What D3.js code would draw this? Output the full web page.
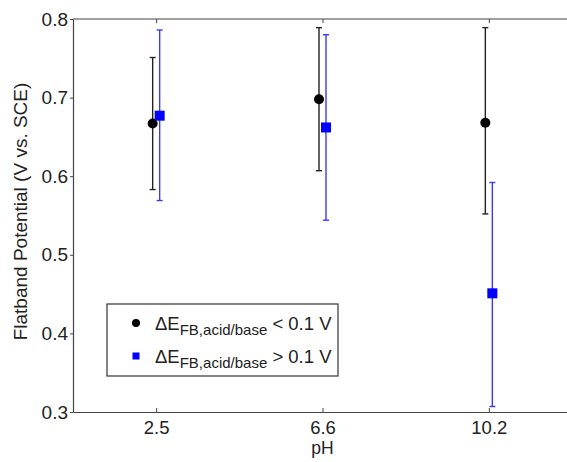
<!DOCTYPE html>
<html>
<head>
<meta charset="utf-8">
<script src="https://cdn.jsdelivr.net/npm/d3@7"></script>
<style>
  body { margin: 0; background: #fff; }
  text { font-family: "Liberation Sans", Arial, sans-serif; fill: #222; }
</style>
</head>
<body>
<div id="chart"></div>
<script>
// pH categories and flatband potentials (V vs. SCE)
const phLabels = ["2.5", "6.6", "10.2"];
const lowMean = [0.667, 0.698, 0.668];
const lowUpper = [0.751, 0.789, 0.789];
const lowLower = [0.583, 0.607, 0.552];
const highMean = [0.677, 0.662, 0.451];
const highUpper = [0.786, 0.780, 0.592];
const highLower = [0.569, 0.544, 0.307];
const yTicks = [0.3, 0.4, 0.5, 0.6, 0.7, 0.8];

const W = 567, H = 462;
const margin = { top: 19, right: -5, bottom: 50, left: 73 };

const svg = d3.select("#chart").append("svg")
    .attr("width", W)
    .attr("height", H);

const x = d3.scaleLinear()
    .domain([0.5, 3.5])
    .range([margin.left, W - margin.right]);

const y = d3.scaleLinear()
    .domain([0.3, 0.8])
    .range([H - margin.bottom, margin.top]);

const axisColor = "#444";

// top frame line
svg.append("line")
    .attr("x1", x(0.5)).attr("x2", x(3.5))
    .attr("y1", y(0.8)).attr("y2", y(0.8))
    .attr("stroke", axisColor).attr("stroke-width", 1.2);

// bottom axis
const xAxis = svg.append("g")
    .attr("transform", `translate(0,${y(0.3)})`)
    .call(d3.axisBottom(x)
        .tickValues([1, 2, 3])
        .tickFormat((d, i) => phLabels[i])
        .tickSizeInner(-4)
        .tickSizeOuter(0)
        .tickPadding(9));
xAxis.select(".domain").attr("stroke", axisColor).attr("stroke-width", 1.2);
xAxis.selectAll(".tick line").attr("stroke", axisColor);
xAxis.selectAll("text").style("font-size", "18.5px").attr("fill", "#222");

// top ticks
svg.append("g")
    .attr("transform", `translate(0,${y(0.8)})`)
    .call(d3.axisTop(x).tickValues([1, 2, 3]).tickSizeInner(-4).tickSizeOuter(0).tickFormat(""))
    .call(g => g.select(".domain").remove())
    .selectAll(".tick line").attr("stroke", axisColor);

// left axis
const yAxis = svg.append("g")
    .attr("transform", `translate(${margin.left},0)`)
    .call(d3.axisLeft(y)
        .tickValues(yTicks)
        .tickFormat(d3.format(".1f"))
        .tickSizeInner(3)
        .tickSizeOuter(0)
        .tickPadding(2));
yAxis.select(".domain").attr("stroke", axisColor).attr("stroke-width", 1.2);
yAxis.selectAll(".tick line").attr("stroke", axisColor);
yAxis.selectAll("text").style("font-size", "19px").attr("fill", "#222");

// right axis ticks (mostly off-canvas)
svg.append("g")
    .attr("transform", `translate(${x(3.5)},0)`)
    .call(d3.axisRight(y).tickValues(yTicks).tickSizeInner(-4).tickSizeOuter(0).tickFormat(""))
    .call(g => g.select(".domain").attr("stroke", axisColor))
    .selectAll(".tick line").attr("stroke", "#bbb");

// axis labels
svg.append("text")
    .attr("x", x(2))
    .attr("y", 454)
    .attr("text-anchor", "middle")
    .style("font-size", "17.5px")
    .text("pH");

svg.append("text")
    .attr("transform", `translate(27,${(y(0.3) + y(0.8)) / 2 - 4}) rotate(-90)`)
    .attr("text-anchor", "middle")
    .style("font-size", "19px")
    .text("Flatband Potential (V vs. SCE)");

// error bars
const series = [
    { mean: lowMean, upper: lowUpper, lower: lowLower, color: "#000", line: "#222", dx: -3.5, shape: "circle" },
    { mean: highMean, upper: highUpper, lower: highLower, color: "#0000ff", line: "#3a3aff", dx: 3.5, shape: "square" }
];

series.forEach(s => {
    const rows = phLabels.map((p, i) => ({ i, mean: s.mean[i], up: s.upper[i], lo: s.lower[i] }));
    const g = svg.append("g");
    const cx = d => x(d.i + 1) + s.dx;

    g.selectAll(".stem").data(rows).join("line")
        .attr("x1", cx).attr("x2", cx)
        .attr("y1", d => y(d.up)).attr("y2", d => y(d.lo))
        .attr("stroke", s.line).attr("stroke-width", 1.4);

    ["up", "lo"].forEach(k => {
        g.selectAll(".cap-" + k).data(rows).join("line")
            .attr("x1", d => cx(d) - 3).attr("x2", d => cx(d) + 3)
            .attr("y1", d => y(d[k])).attr("y2", d => y(d[k]))
            .attr("stroke", s.line).attr("stroke-width", 1.4);
    });

    if (s.shape === "circle") {
        g.selectAll("circle").data(rows).join("circle")
            .attr("cx", cx).attr("cy", d => y(d.mean))
            .attr("r", 5).attr("fill", s.color);
    } else {
        g.selectAll("rect").data(rows).join("rect")
            .attr("x", d => cx(d) - 5).attr("y", d => y(d.mean) - 5)
            .attr("width", 10).attr("height", 10)
            .attr("fill", s.color);
    }
});

// legend
const legend = svg.append("g").attr("transform", "translate(107,304)");
legend.append("rect")
    .attr("width", 231).attr("height", 72)
    .attr("fill", "#fff").attr("stroke", "#333").attr("stroke-width", 1.2);

const legendItems = [
    { op: "< 0.1 V", shape: "circle", color: "#000" },
    { op: "> 0.1 V", shape: "square", color: "#0000ff" }
];

legendItems.forEach((d, i) => {
    const row = legend.append("g").attr("transform", `translate(0,${19 + i * 33})`);
    if (d.shape === "circle") {
        row.append("circle").attr("cx", 29).attr("cy", 0).attr("r", 4).attr("fill", d.color);
    } else {
        row.append("rect").attr("x", 25.5).attr("y", -3.5).attr("width", 7).attr("height", 7).attr("fill", d.color);
    }
    const t = row.append("text").attr("x", 48).attr("y", 7).style("font-size", "18.5px");
    t.append("tspan").text("\u0394E");
    t.append("tspan").attr("dy", 5).style("font-size", "15px").text("FB,acid/base");
    t.append("tspan").attr("dy", -5).text(" " + d.op);
});
</script>
</body>
</html>
